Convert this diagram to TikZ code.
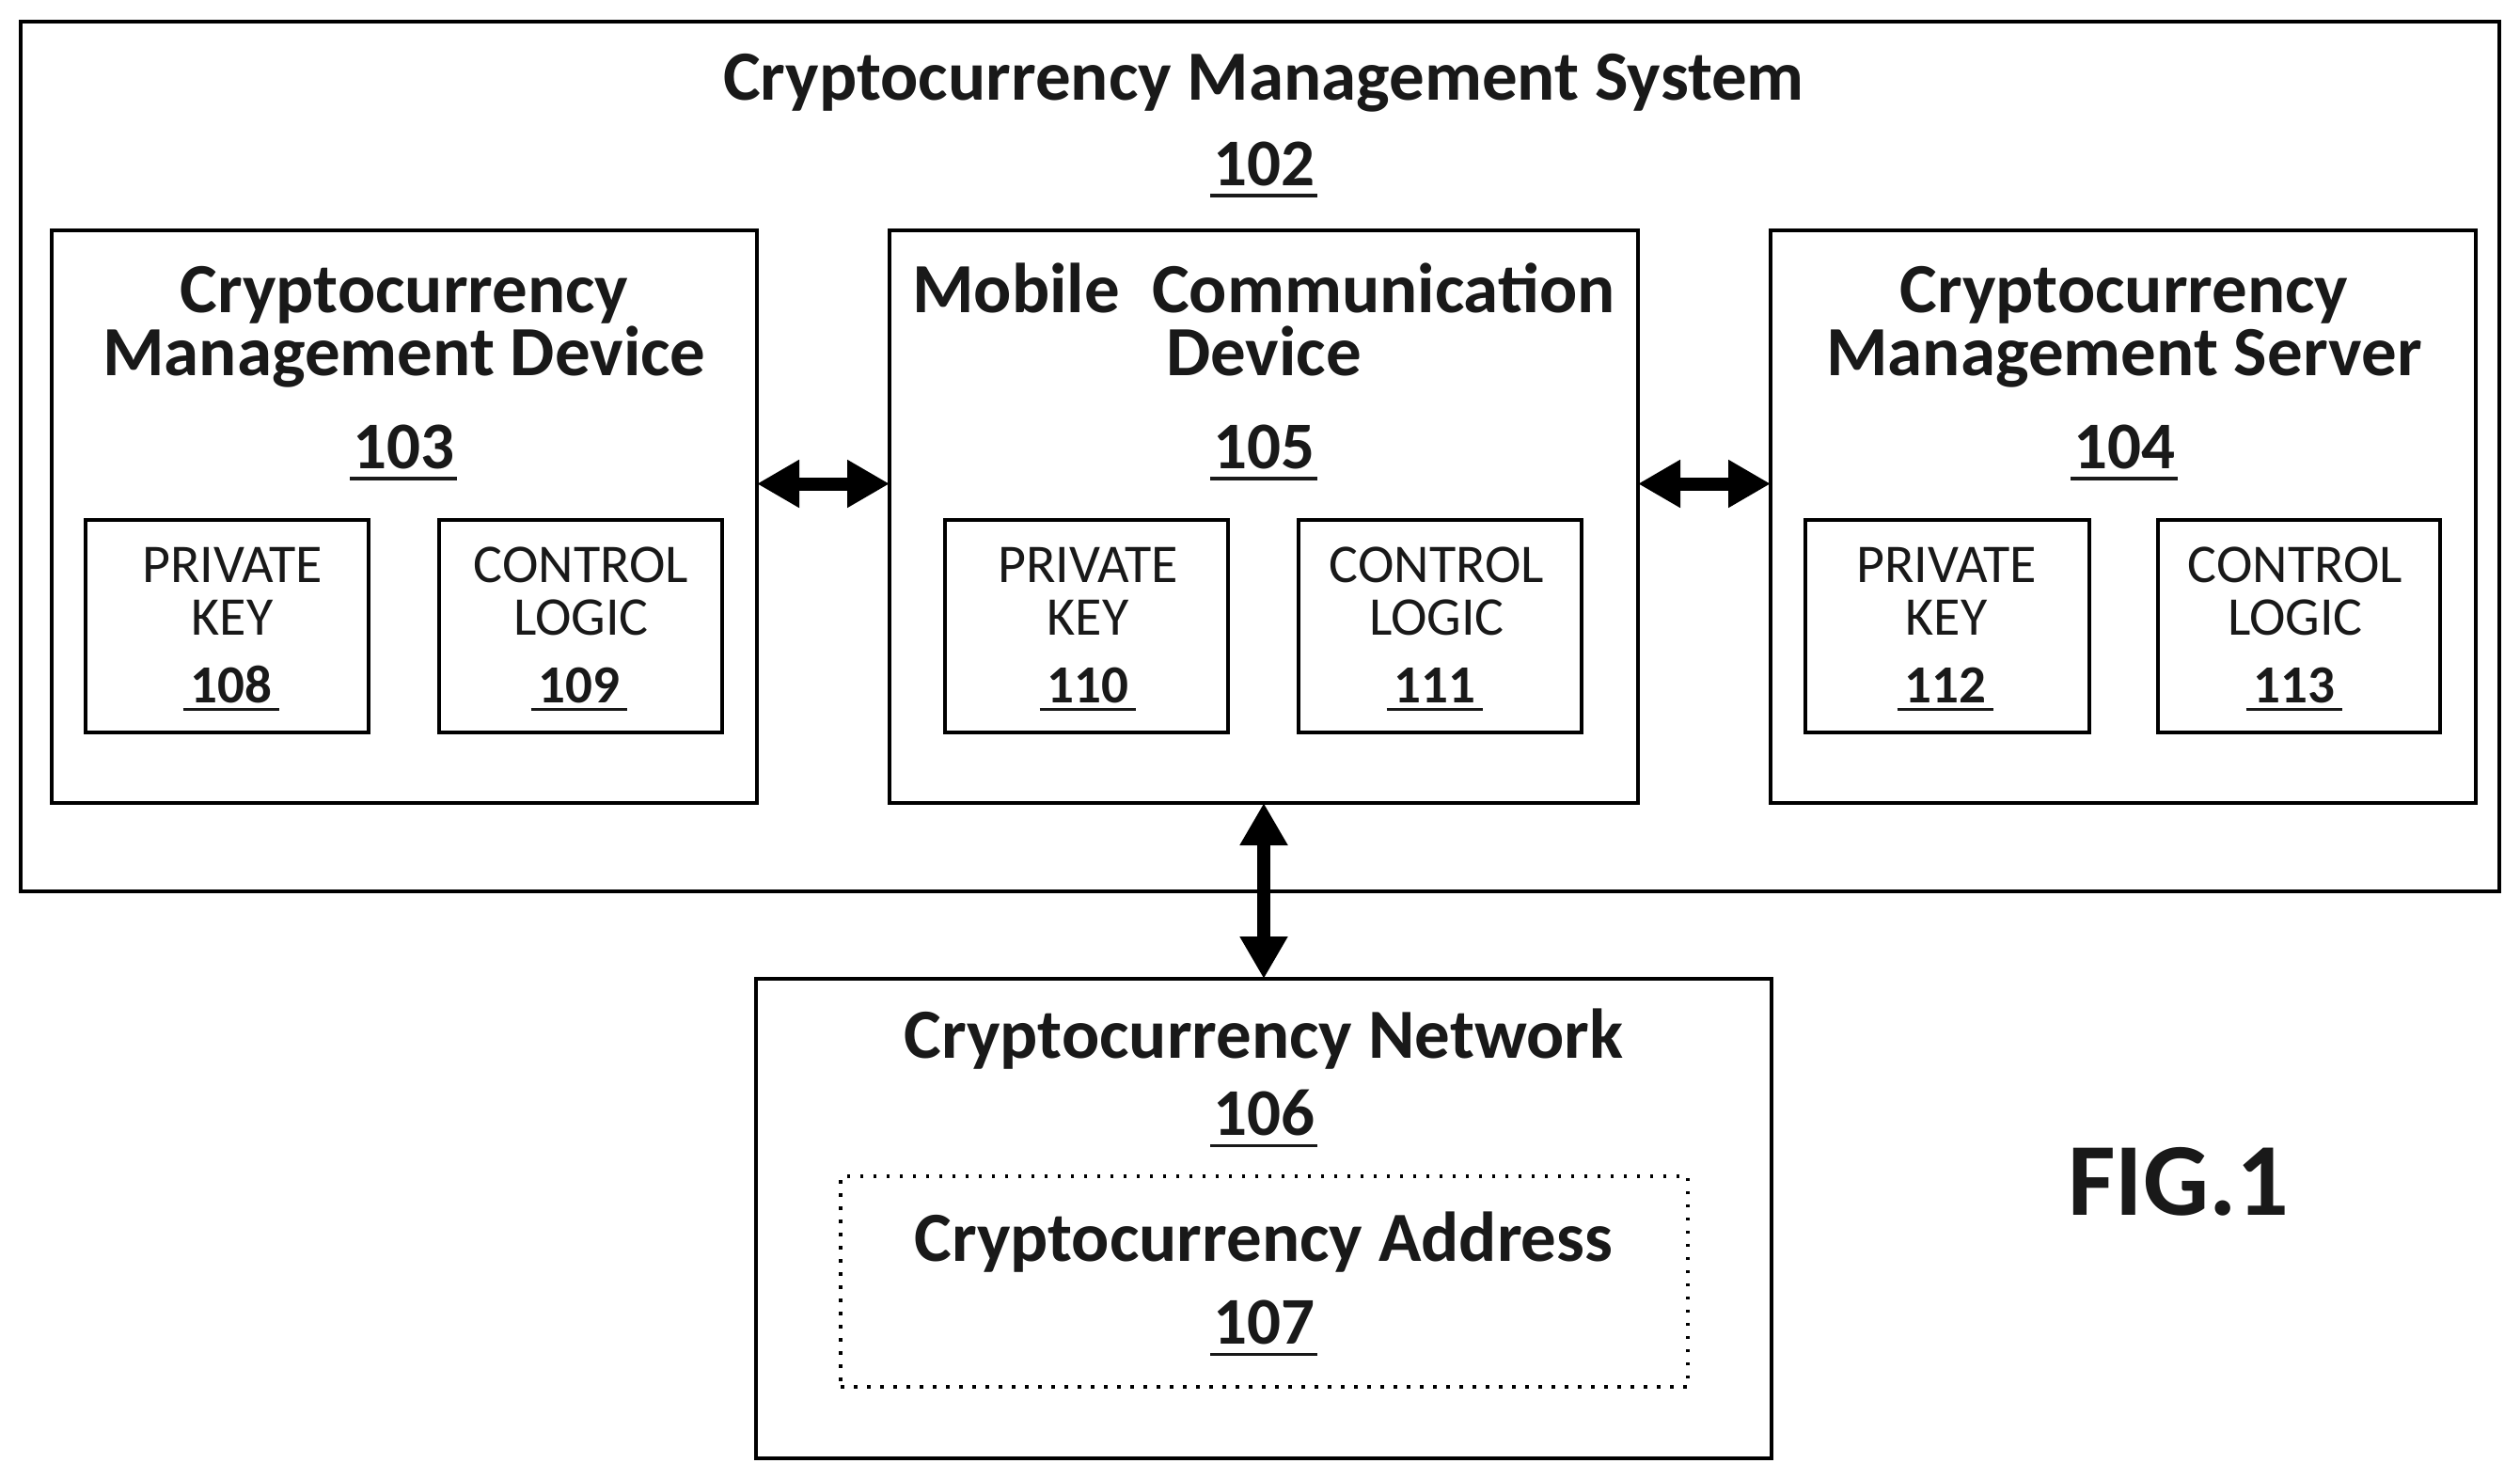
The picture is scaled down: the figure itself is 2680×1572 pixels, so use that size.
\documentclass[tikz,border=0pt]{standalone}
\usepackage{fontspec}
\setmainfont{Carlito}
\usetikzlibrary{arrows.meta}
\definecolor{ink}{gray}{0.1}
\newcommand{\HeadFont}{\fontsize{75}{67}\selectfont\bfseries}
\newcommand{\SubFont}{\fontsize{58}{56}\selectfont}
\newcommand{\NumFont}{\fontsize{57}{57}\selectfont\bfseries}
\newcommand{\BigFont}{\fontsize{71}{71}\selectfont\bfseries}
\newcommand{\BigNum}[1]{\vtop{\hbox{\kern3pt #1\kern3pt}\kern9pt\hrule height 3.5pt}}
\newcommand{\SmallNum}[1]{\vtop{\hbox{\kern8pt #1\kern8pt}\kern6pt\hrule height 3pt}}
\newcommand{\Pbox}[6]{%
  \pgfmathsetmacro{\pw}{#4-#2}\pgfmathsetmacro{\ph}{#5-#3}%
  \node[#6,minimum width=\pw pt,minimum height=\ph pt,anchor=north west] (#1) at (#2,#3) {};}
\tikzset{
  x=1pt,y=-1pt,
  outerbox/.style={draw=black,line width=4.5pt,inner sep=0pt,outer sep=0pt},
  midbox/.style={draw=black,line width=4pt,inner sep=0pt,outer sep=0pt},
  smallbox/.style={draw=black,line width=3.6pt,inner sep=0pt,outer sep=0pt},
  dotbox/.style={draw=black,line width=3.5pt,dash pattern=on 3.5pt off 10.5pt,inner sep=0pt,outer sep=0pt},
  headtxt/.style={anchor=base,inner sep=0pt,text=ink,font=\HeadFont,align=center},
  bignum/.style={anchor=base,inner sep=0pt,text=ink,font=\BigFont},
  subtxt/.style={anchor=base,inner sep=0pt,text=ink,font=\SubFont,align=center},
  numtxt/.style={anchor=base,inner sep=0pt,text=ink,font=\NumFont},
  dbl/.style={line width=14pt,draw=black,{Triangle[length=45pt,width=48pt]}-{Triangle[length=45pt,width=48pt]},shorten <=0pt,shorten >=0pt},
}
\begin{document}
\begin{tikzpicture}
\useasboundingbox[fill=white] (0,0) rectangle (2680,1572);
\Pbox{sys}{22}{23}{2658}{948}{outerbox}
\Pbox{dev}{55}{245}{805}{854}{midbox}
\Pbox{mob}{946}{245}{1742}{854}{midbox}
\Pbox{srv}{1883}{245}{2633}{854}{midbox}
\Pbox{kd}{91}{553}{392}{779}{smallbox}
\Pbox{cd}{467}{553}{768}{779}{smallbox}
\Pbox{km}{1005}{553}{1306}{779}{smallbox}
\Pbox{cm}{1381}{553}{1682}{779}{smallbox}
\Pbox{ks}{1920}{553}{2222}{779}{smallbox}
\Pbox{cs}{2295}{553}{2595}{779}{smallbox}
\Pbox{net}{804}{1041}{1884}{1551}{outerbox}
\Pbox{addr}{894}{1251}{1795}{1475}{dotbox}

\draw[dbl] ([yshift=35pt]dev.east) -- ([yshift=35pt]mob.west);
\draw[dbl] ([yshift=35pt]mob.east) -- ([yshift=35pt]srv.west);
\draw[dbl] (mob.south) -- (mob.south |- net.north);

\node[headtxt] (t0) at (1344,106) {Cryptocurrency Management System};
\node[bignum] (n102) at (1344,197) {\BigNum{102}};
\node[headtxt] (t1) at (430,399) {Cryptocurrency\\Management Device};
\node[bignum] (n103) at (429,498) {\BigNum{103}};
\node[headtxt] (t3) at (1344,399) {Mobile\ \ Communication\\Device};
\node[bignum] (n105) at (1344,498) {\BigNum{105}};
\node[headtxt] (t5) at (2259,399) {Cryptocurrency\\Management Server};
\node[bignum] (n104) at (2259,498) {\BigNum{104}};
\node[headtxt] (t7) at (1344,1125) {Cryptocurrency Network};
\node[bignum] (n106) at (1344,1207) {\BigNum{106}};
\node[headtxt] (t8) at (1344,1341) {Cryptocurrency Address};
\node[bignum] (n107) at (1344,1429) {\BigNum{107}};

\node[subtxt] (a1) at (247,675) {PRIVATE\\KEY};
\node[numtxt] (n108) at (246,747) {\SmallNum{108}};
\node[subtxt] (b1) at (618,675) {CONTROL\\LOGIC};
\node[numtxt] (n109) at (616,747) {\SmallNum{109}};
\node[subtxt] (c1) at (1157,675) {PRIVATE\\KEY};
\node[numtxt] (n110) at (1157,747) {\SmallNum{110}};
\node[subtxt] (d1) at (1528,675) {CONTROL\\LOGIC};
\node[numtxt] (n111) at (1526,747) {\SmallNum{111}};
\node[subtxt] (e1) at (2070,675) {PRIVATE\\KEY};
\node[numtxt] (n112) at (2069,747) {\SmallNum{112}};
\node[subtxt] (f1) at (2441,675) {CONTROL\\LOGIC};
\node[numtxt] (n113) at (2440,747) {\SmallNum{113}};

\node[anchor=base,inner sep=0pt,text=ink,font=\fontsize{110}{110}\selectfont\bfseries] (fig) at (2317,1292) {FIG.1};
\end{tikzpicture}
\end{document}
